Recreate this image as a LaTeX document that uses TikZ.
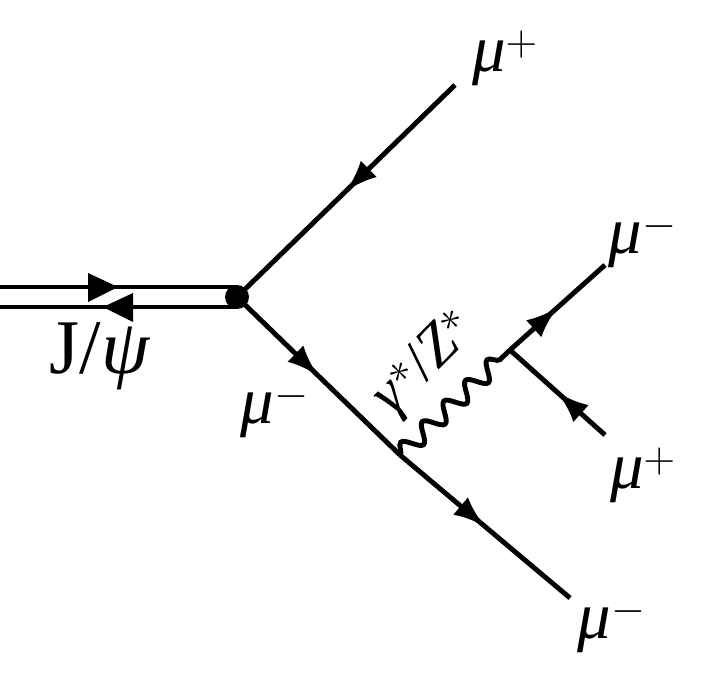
\documentclass[tikz,border=0pt]{standalone}
\usepackage{fontspec}
\setmainfont{Liberation Serif}
\usetikzlibrary{arrows.meta, decorations.markings, decorations.pathmorphing}

\newcommand{\mum}{\textit{μ}$^{-}$}
\newcommand{\mup}{\textit{μ}$^{+}$}

\begin{document}
\begin{tikzpicture}[x=0.02cm, y=-0.02cm,
    fermion/.style={line width=2.8pt, postaction={decorate},
        decoration={markings, mark=at position 0.5 with {\arrow{Latex[length=18pt, width=13pt]}}}},
    antifermion/.style={line width=2.8pt, postaction={decorate},
        decoration={markings, mark=at position 0.5 with {\arrowreversed{Latex[length=18pt, width=13pt]}}}},
    boson/.style={line width=2.8pt, decorate,
        decoration={snake, amplitude=5pt, segment length=17pt}},
    lbl/.style={font=\fontsize{38}{44}\selectfont}
]
\useasboundingbox (0,0) rectangle (706,679);

% Vertices
\coordinate (v1) at (237,297);
\coordinate (v2) at (400,455);
\coordinate (v3) at (510,350);
\coordinate (jtop) at (0,287);
\coordinate (jbot) at (0,307);
\coordinate (mup1) at (455,85);
\coordinate (mum1) at (570,598);
\coordinate (mum2) at (605,265);
\coordinate (mup2) at (605,435);

% J/psi double line
\draw[line width=2.8pt] (jtop) -- (237,287);
\draw[line width=2.8pt] (jbot) -- (237,307);
\fill (118,287) -- (88,273) -- (88,302) -- cycle;
\fill (103,307) -- (133,293) -- (133,322) -- cycle;

% Fermion lines
\draw[antifermion] (v1) -- (mup1);
\draw[fermion] (v1) -- (v2);
\draw[fermion] (v2) -- (mum1);
\draw[fermion] (v3) -- (mum2);
\draw[antifermion] (v3) -- (mup2);

% Photon / Z
\draw[boson] (v2) -- (v3);
\fill (v1) circle (12);

% Labels
\node[lbl, font=\fontsize{44}{50}\selectfont] (ljpsi) at (100,356) {J/\textit{ψ}};
\node[lbl] (lmup1) at (505,58) {\mup};
\node[lbl] (lmum1) at (275,410) {\mum};
\node[lbl] (lmum3) at (612,625) {\mum};
\node[lbl] (lmum2) at (643,240) {\mum};
\node[lbl] (lmup2) at (643,475) {\mup};
\node[lbl, rotate=45, font=\fontsize{34}{40}\selectfont] (lgam) at (426,364) {\textit{γ}$^{*}$/\textit{Z}$^{*}$};
\end{tikzpicture}
\end{document}
